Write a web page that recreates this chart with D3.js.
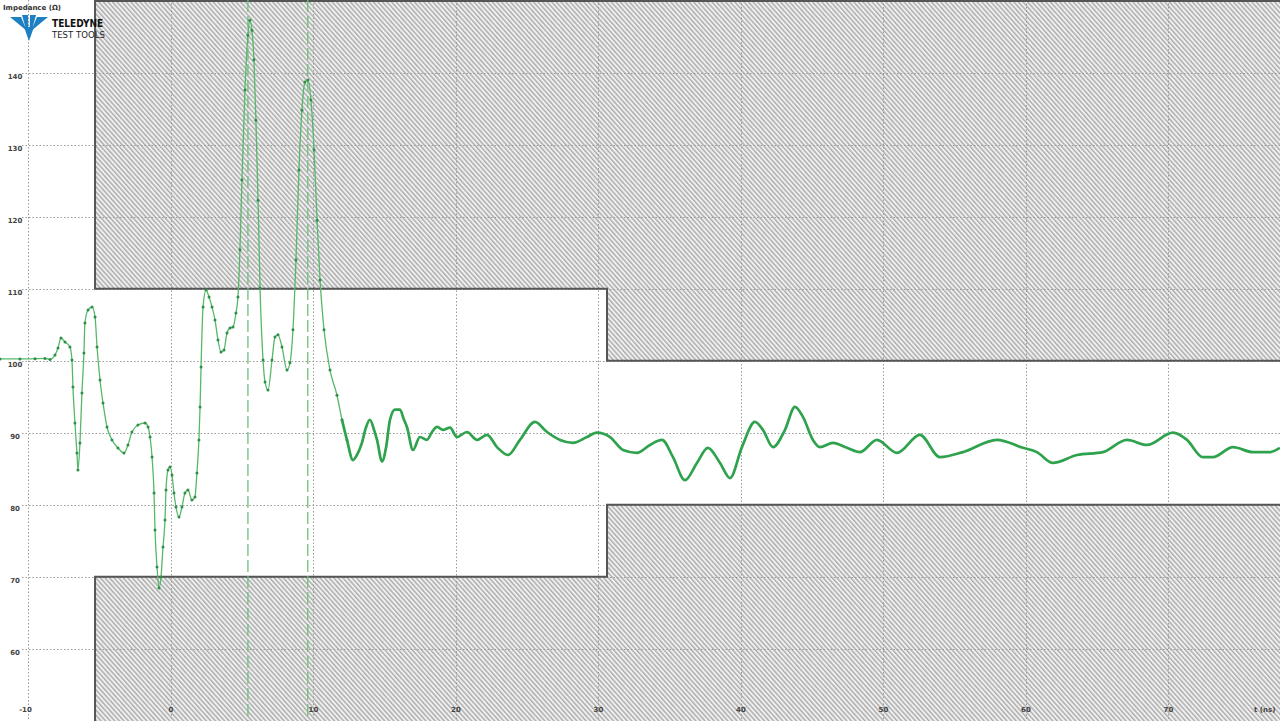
<!DOCTYPE html>
<html>
<head>
<meta charset="utf-8">
<script src="https://cdn.jsdelivr.net/npm/d3@7"></script>
<style>
  html, body { margin: 0; padding: 0; background: #fff; overflow: hidden; }
  svg { display: block; }
  text { font-family: "DejaVu Sans", sans-serif; }
</style>
</head>
<body>
<svg id="chart" width="1280" height="721"></svg>
<script>
// TDR trace: time (ns) and impedance (ohm)
var timeNs = [-12.0, -10.6, -9.54, -8.84, -8.49, -8.14, -7.93, -7.72, -7.44, -7.09, -6.95, -6.88, -6.74, -6.60, -6.53,
  -6.39, -6.25, -6.11, -6.04, -5.82, -5.54, -5.33, -5.19, -4.98, -4.77, -4.49, -4.14, -3.72, -3.30, -3.02, -2.74,
  -2.32, -1.82, -1.61, -1.47, -1.33, -1.19, -1.12, -0.98, -0.84, -0.70, -0.56, -0.42, -0.35, -0.21, -0.07, 0.07,
  0.21, 0.35, 0.56, 0.77, 0.98, 1.19, 1.47, 1.68, 1.82, 1.96, 2.04, 2.11, 2.25, 2.46, 2.67, 2.88, 3.09, 3.30,
  3.51, 3.72, 3.93, 4.14, 4.35, 4.56, 4.70, 4.84, 4.98, 5.19, 5.40, 5.54, 5.68, 5.82, 5.96, 6.11, 6.25, 6.46,
  6.60, 6.81, 7.09, 7.30, 7.51, 7.79, 8.14, 8.35, 8.56, 8.77, 8.98, 9.19, 9.40, 9.61, 9.82, 10.04, 10.25, 10.46,
  10.74, 11.16, 11.65, 12.0, 12.35, 12.77, 13.05, 13.40, 13.68, 13.96, 14.25, 14.46, 14.81, 15.09, 15.37, 15.72,
  16.07, 16.35, 16.56, 16.98, 17.47, 17.96, 18.32, 18.67, 19.09, 19.58, 20.07, 20.77, 21.47, 22.18, 22.88, 23.65,
  24.49, 25.54, 26.39, 27.30, 28.21, 29.19, 29.89, 30.81, 31.72, 32.70, 33.61, 34.46, 35.23, 36.07, 36.91, 37.68,
  38.53, 39.23, 40.07, 40.98, 41.54, 42.25, 43.09, 43.79, 44.35, 45.05, 45.54, 46.46, 47.44, 48.35, 49.54, 50.95,
  52.56, 53.96, 55.58, 57.96, 59.79, 60.77, 61.89, 63.58, 65.40, 67.09, 68.49, 70.32, 71.30, 72.42, 73.12, 74.53,
  75.93, 77.12, 77.82];
var impedance = [100.24, 100.24, 100.28, 100.31, 100.17, 100.79, 101.76, 103.15, 102.6, 101.9, 100.1, 96.35, 91.35, 87.18, 84.82,
  88.57, 95.51, 101.07, 105.24, 107.04, 107.46, 106.07, 101.9, 97.32, 94.13, 90.79, 88.99, 87.88, 87.18, 88.29, 90.1,
  91.07, 91.35, 90.79, 89.4, 86.62, 81.62, 76.49, 71.35, 68.43, 69.96, 74.13, 77.88, 82.04, 84.82, 85.24, 84.13,
  81.63, 79.68, 78.29, 79.68, 81.63, 82.04, 80.65, 81.07, 84.40, 88.99, 93.57, 99.13, 107.46, 109.82, 108.85, 107.46, 105.65, 102.88,
  101.21, 101.49, 103.85, 104.54, 104.68, 106.63, 108.85, 115.4, 125.1, 137.6, 145.2, 147.3, 145.9, 141.8, 133.4, 122.3, 110.1, 100.1,
  97.04, 95.93, 100.1, 103.3, 103.6, 101.9, 98.7, 99.7, 104.3, 114.0, 126.5, 134.8, 138.7, 139.0, 136.2, 129.3, 119.5, 111.2,
  104.3, 98.7, 95.2, 91.8, 89.0, 86.2, 86.9, 88.6, 90.7, 91.8, 90.4, 89.0, 86.0, 87.9, 91.8, 93.2,
  93.2, 91.8, 90.8, 87.6, 89.4, 89.0, 90.1, 90.8, 90.4, 90.7, 89.4, 90.1, 89.0, 89.7, 88.0, 86.9,
  89.0, 91.5, 90.1, 89.0, 88.6, 89.4, 90.0, 89.4, 87.6, 87.2, 88.3, 89.0, 86.6, 83.4, 85.8, 87.9,
  85.8, 83.7, 88.0, 91.5, 90.4, 88.0, 90.4, 93.6, 92.2, 89.0, 88.0, 88.6, 87.9, 87.3, 89.0, 87.2,
  89.7, 86.6, 87.3, 89.0, 87.9, 87.3, 85.8, 86.9, 87.3, 89.0, 88.3, 90.0, 89.0, 86.6, 86.6, 88.0,
  87.3, 87.3, 87.9];

var xTicks = [-10, 0, 10, 20, 30, 40, 50, 60, 70];
var yTicks = [60, 70, 80, 90, 100, 110, 120, 130, 140];

// limit mask: segment start times and upper / lower limits (ohm)
var maskStarts = [-5.33, 30.6];
var upperLimits = [110, 100];
var lowerLimits = [70, 80];
var cursorTimes = [5.4, 9.6];

var width = 1280,
  height = 721;

var svg = d3.select("#chart");

var x = d3.scaleLinear().domain([-12, 77.83]).range([0, width]);
var y = d3.scaleLinear().domain([50, 150]).range([720.7, 0.7]);

var trace = timeNs.map(function(t, i) {
  return { t: t, z: impedance[i] };
});

// hatch pattern for the mask areas
var defs = svg.append("defs");
var hatch = defs.append("pattern")
  .attr("id", "hatch")
  .attr("patternUnits", "userSpaceOnUse")
  .attr("width", 3.4)
  .attr("height", 10)
  .attr("patternTransform", "rotate(-42)");
hatch.append("rect")
  .attr("width", 3.4)
  .attr("height", 10)
  .attr("fill", "#efefef");
hatch.append("line")
  .attr("x1", 0.7).attr("y1", 0)
  .attr("x2", 0.7).attr("y2", 10)
  .attr("stroke", "#a6a6a6")
  .attr("stroke-width", 1.3);

var xEnd = width + 4;
var upperPts = [
  [x(maskStarts[0]), 1], [xEnd, 1],
  [xEnd, y(upperLimits[1])], [x(maskStarts[1]), y(upperLimits[1])],
  [x(maskStarts[1]), y(upperLimits[0])], [x(maskStarts[0]), y(upperLimits[0])]
];
var lowerPts = [
  [x(maskStarts[0]), height + 4], [x(maskStarts[0]), y(lowerLimits[0])],
  [x(maskStarts[1]), y(lowerLimits[0])], [x(maskStarts[1]), y(lowerLimits[1])],
  [xEnd, y(lowerLimits[1])], [xEnd, height + 4]
];

svg.selectAll(".mask")
  .data([upperPts, lowerPts])
  .enter()
  .append("polygon")
  .attr("class", "mask")
  .attr("points", function(d) { return d.join(" "); })
  .attr("fill", "url(#hatch)")
  .attr("stroke", "none");

// dotted grid
svg.selectAll(".vgrid")
  .data(xTicks)
  .enter()
  .append("line")
  .attr("class", "vgrid")
  .attr("x1", function(d) { return Math.round(x(d)) + 0.5; })
  .attr("x2", function(d) { return Math.round(x(d)) + 0.5; })
  .attr("y1", 0)
  .attr("y2", height)
  .attr("stroke", "#9a9a9a")
  .attr("stroke-width", 1)
  .style("stroke-dasharray", "1.5,2");

svg.selectAll(".hgrid")
  .data(yTicks)
  .enter()
  .append("line")
  .attr("class", "hgrid")
  .attr("x1", 22)
  .attr("x2", width)
  .attr("y1", function(d) { return Math.round(y(d)) + 0.5; })
  .attr("y2", function(d) { return Math.round(y(d)) + 0.5; })
  .attr("stroke", "#9a9a9a")
  .attr("stroke-width", 1)
  .style("stroke-dasharray", "1.5,2");

// mask outlines
svg.selectAll(".maskEdge")
  .data([upperPts, lowerPts])
  .enter()
  .append("polygon")
  .attr("class", "maskEdge")
  .attr("points", function(d) { return d.join(" "); })
  .attr("fill", "none")
  .attr("stroke", "#555")
  .attr("stroke-width", 2);

// cursors
svg.selectAll(".cursor")
  .data(cursorTimes)
  .enter()
  .append("line")
  .attr("class", "cursor")
  .attr("x1", function(d) { return x(d); })
  .attr("x2", function(d) { return x(d); })
  .attr("y1", 0)
  .attr("y2", height)
  .attr("stroke", "#6cc07c")
  .attr("stroke-width", 1.3)
  .style("stroke-dasharray", "12,4");

// trace: thin dotted part where the signal is steep, thick part after
var line = d3.line()
  .x(function(d) { return x(d.t); })
  .y(function(d) { return y(d.z); })
  .curve(d3.curveMonotoneX);

var steep = trace.filter(function(d) { return d.t <= 12.4; });
var settled = trace.filter(function(d) { return d.t >= 12.0; });

svg.append("path")
  .datum(steep)
  .attr("d", line)
  .attr("fill", "none")
  .attr("stroke", "#55b86a")
  .attr("stroke-width", 1.3);

svg.selectAll(".sample")
  .data(steep)
  .enter()
  .append("circle")
  .attr("class", "sample")
  .attr("cx", function(d) { return x(d.t); })
  .attr("cy", function(d) { return y(d.z); })
  .attr("r", 1.5)
  .attr("fill", "#2f8f46");

svg.append("path")
  .datum(settled)
  .attr("d", line)
  .attr("fill", "none")
  .attr("stroke", "#2ea24c")
  .attr("stroke-width", 2.7)
  .attr("stroke-linejoin", "round");

// tick labels
svg.selectAll(".ylab")
  .data(yTicks)
  .enter()
  .append("text")
  .attr("class", "ylab")
  .attr("x", 15)
  .attr("y", function(d) { return y(d) + 6; })
  .attr("text-anchor", "middle")
  .style("font-size", "7px")
  .style("font-weight", "bold")
  .style("fill", "#444")
  .text(function(d) { return d; });

svg.selectAll(".xlab")
  .data(xTicks)
  .enter()
  .append("text")
  .attr("class", "xlab")
  .attr("x", function(d) { return x(d) - (d < 0 ? 3 : 0); })
  .attr("y", 712)
  .attr("text-anchor", "middle")
  .style("font-size", "7px")
  .style("font-weight", "bold")
  .style("fill", "#444")
  .text(function(d) { return d; });

svg.append("text")
  .attr("x", 1254)
  .attr("y", 712)
  .style("font-size", "7px")
  .style("font-weight", "bold")
  .style("fill", "#444")
  .text("t (ns)");

svg.append("text")
  .attr("x", 3)
  .attr("y", 10)
  .style("font-size", "7px")
  .style("font-weight", "bold")
  .style("fill", "#333")
  .text("Impedance (Ω)");

// logo
var logo = svg.append("g").attr("fill", "#1f7fc3");
var wedges = [
  [[10, 17], [21, 17], [27, 31]],
  [[22, 15], [28, 15], [28.5, 39]],
  [[30, 15], [36, 15], [29.5, 39]],
  [[37, 17], [48, 17], [31, 31]],
  [[24, 27], [34, 27], [29, 41]]
];
logo.selectAll("polygon")
  .data(wedges)
  .enter()
  .append("polygon")
  .attr("points", function(d) { return d.join(" "); });

svg.append("text")
  .attr("x", 52)
  .attr("y", 27)
  .style("font-family", "'DejaVu Sans Condensed', 'DejaVu Sans', sans-serif")
  .style("font-size", "10px")
  .style("font-weight", "bold")
  .style("fill", "#111")
  .text("TELEDYNE");

svg.append("text")
  .attr("x", 52)
  .attr("y", 38)
  .style("font-family", "'DejaVu Sans Condensed', 'DejaVu Sans', sans-serif")
  .style("font-size", "9.5px")
  .style("fill", "#222")
  .text("TEST TOOLS");
</script>
</body>
</html>
